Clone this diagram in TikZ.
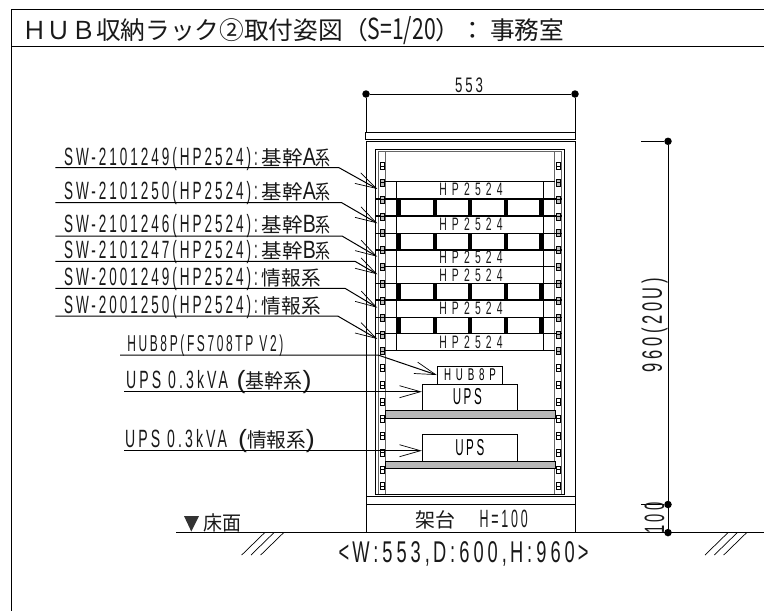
\documentclass[tikz,border=0pt]{standalone}
\usepackage{fontspec}
\usepackage{graphicx}
\usetikzlibrary{arrows.meta}
\setmainfont[LetterSpace=22]{Liberation Sans}
\newfontfamily\cjk{Noto Sans CJK JP}
% narrow latin: size, width, text
\newcommand\latx[3]{\resizebox{#2pt}{\height}{\fontsize{#1}{#1}\selectfont #3}}
\newcommand\lat[2]{\latx{25}{#1}{#2}}
\newcommand\cj[2]{\resizebox{#1pt}{\height}{\cjk\fontsize{20}{20}\selectfont #2}}
\tikzset{
  x=1pt,y=-1pt,
  line/.style={line width=1pt,black},
  thin line/.style={line width=.7pt,black},
  heavy/.style={line width=1.5pt,black},
  railline/.style={line width=.9pt,black!60},
  txt/.style={inner sep=0pt,outer sep=0pt,anchor=base west,text=black!90},
  ctxt/.style={inner sep=0pt,outer sep=0pt,anchor=center,text=black!90},
  leader/.style={line width=1pt,black,-{Straight Barb[length=21pt,width=12pt,line width=.7pt]}},
  dimdot/.style={circle,fill=black,inner sep=0pt,minimum size=7.5pt},
  hole/.style={draw=black,line width=.6pt,fill=white},
  darkhole/.style={draw=black,line width=1pt,fill=black!25},
  shelf/.style={draw=black,line width=1pt,fill=black!28},
  unitbox/.style={draw=black,line width=1pt,fill=white},
  bar/.style={fill=black,draw=none},
  hatch/.style={line width=.7pt,black},
}
\begin{document}
\begin{tikzpicture}
\useasboundingbox (0,0) rectangle (764,611);
% sheet frame
\draw[line] (764,9) -- (11.5,9) -- (11.5,611);
\draw[line] (11.5,46.7) -- (764,46.7);
% title
\node[txt] (title) at (22,39) {\cjk\fontsize{24.7}{24.7}\selectfont ＨＵＢ収納ラック②取付姿図（\latx{29}{68}{S=1/20}）：\hspace{5pt}事務室};
% cabinet
\draw[line] (365.5,132.7) rectangle (575,139);
\draw[line] (366,141) rectangle (575,504);
\draw[line] (366,496.7) -- (575,496.7);
\draw[line] (375.3,149) rectangle (564,494.3);
\draw[railline] (378,151.7) -- (561.5,151.7);
\foreach \x in {378,385,554.5,561.5} \draw[railline] (\x,151.7) -- (\x,494.3);
% plinth
\draw[line] (366,504) rectangle (575,532.6);
\node[txt] (plinth) at (415.7,527) {\cj{40}{架台}\hspace{24pt}\lat{48}{H=100}};
% server rows
\foreach \y in {199,233,283.3,317.3} {
  \foreach \x in {396.7,432.5,467.7,503.5,539}
    \fill[bar] (\x,\y) rectangle ++(4.6,17);
}
\foreach \x in {396,543.3} \draw[thin line] (\x,181.7) -- (\x,350.7);
\foreach \y in {181.7,266,350.7} \draw[thin line] (385,\y) -- (554.5,\y);
\foreach \y in {199,216,233.3,250,283.3,300,317.3,333.5} \draw[heavy] (376,\y) -- (561.7,\y);
% rail holes
\foreach \k in {0,12,13,14,15,16,17,18,19} {
  \foreach \x in {380,556} {
    \draw[hole] (\x,166+16.85*\k-3.5) rectangle ++(4.3,3.5);
    \draw[hole] (\x,166+16.85*\k) rectangle ++(4.3,3.5);
  }
}
\foreach \k in {1,...,11} {
  \foreach \x in {380,556} {
    \draw[darkhole] (\x,166+16.85*\k-3.5) rectangle ++(4.3,3.5);
    \draw[darkhole] (\x,166+16.85*\k) rectangle ++(4.3,3.5);
  }
}
% unit names
\foreach \n/\y in {a/189.7,b/224.3,c/257.5,d/275.5,e/308.5,f/342}
  \node[ctxt] (hp\n) at (471,\y) {\latx{18}{63.5}{H P 2 5 2 4}};
% equipment
\node[unitbox,minimum width=65.4pt,minimum height=18pt,inner sep=0pt] (hub) at (470,375) {\latx{17}{52}{H U B 8 P}};
\node[unitbox,minimum width=95pt,minimum height=26pt,inner sep=0pt] (ups1) at (469.8,397) {\hspace{-5pt}\latx{23}{29}{UPS}};
\node[unitbox,minimum width=95pt,minimum height=26.7pt,inner sep=0pt] (ups2) at (469.8,447.7) {\latx{23}{29}{UPS}};
\draw[shelf] (385,410) rectangle (555,418.3);
\draw[shelf] (385,461) rectangle (555,468.7);
% labels
\node[txt] (l1) at (64,165.5) {\lat{194}{SW-2101249(HP2524):}\hspace{4pt}\cj{41}{基幹}\lat{13}{A}\cj{15}{系}};
\node[txt] (l2) at (64,199.5) {\lat{194}{SW-2101250(HP2524):}\hspace{4pt}\cj{41}{基幹}\lat{13}{A}\cj{15}{系}};
\node[txt] (l3) at (64,232.5) {\lat{194}{SW-2101246(HP2524):}\hspace{4pt}\cj{41}{基幹}\lat{13}{B}\cj{15}{系}};
\node[txt] (l4) at (64,258) {\lat{194}{SW-2101247(HP2524):}\hspace{4pt}\cj{41}{基幹}\lat{13}{B}\cj{15}{系}};
\node[txt] (l5) at (64,285) {\lat{194}{SW-2001249(HP2524):}\hspace{4pt}\cj{59}{情報系}};
\node[txt] (l6) at (64,313) {\lat{194}{SW-2001250(HP2524):}\hspace{4pt}\cj{59}{情報系}};
\node[txt] (l7) at (127.3,351) {\latx{23}{156}{HUB8P(FS708TP V2)}};
\node[txt] (l8) at (126,388) {\lat{102}{UPS 0.3kVA}\hspace{8.7pt}\lat{9}{(}\cj{57}{基幹系}\lat{9}{)}};
\node[txt] (l9) at (125,447) {\lat{102}{UPS 0.3kVA}\hspace{11pt}\lat{9}{(}\cj{59}{情報系}\lat{9}{)}};
% leaders
\foreach \n/\sx/\sy/\kx/\tx/\ty in {
  1/55.3/167.7/339/377.3/189,
  2/55.3/202.7/341.7/377.3/223.3,
  3/55.3/236/342/377.3/256.7,
  4/55.3/261.3/355/377.3/274.3,
  5/55.3/288.3/345/377.3/307.7,
  6/55.3/316/337.7/377.3/339} {
  \coordinate (s\n) at (\sx,\sy);
  \coordinate (k\n) at (\kx,\sy);
  \coordinate (t\n) at (\tx,\ty);
  \draw[leader] (s\n) -- (k\n) -- (t\n);
}
\coordinate (s7) at (120,355);
\coordinate (k7) at (378,355);
\draw[leader] (s7) -- (k7) -- (hub.west);
\coordinate (s8) at (124,391.7);
\draw[leader] (s8) -- (s8 -| ups1.west);
\coordinate (s9) at (124,450.7);
\draw[leader] (s9) -- (s9 -| ups2.west);
% dimensions
\node[dimdot] (w1) at (366,94) {};
\node[dimdot] (w2) at (575,94) {};
\coordinate (w1e) at (366,132.7);
\coordinate (w2e) at (575,132.7);
\draw[line] (w1) -- (w2);
\draw[line] (w1) -- (w1e);
\draw[line] (w2) -- (w2e);
\node[ctxt] (wt) at (469,85) {\latx{21}{28}{553}};
\node[dimdot] (h1) at (668,141.3) {};
\node[dimdot] (h2) at (668,504.5) {};
\node[dimdot] (h3) at (668,532.6) {};
\coordinate (h1e) at (641,141.3);
\coordinate (h2e) at (641,504.5);
\draw[line] (h1) -- (h3);
\draw[line] (h1e) -- (h1);
\draw[line] (h2e) -- (h2);
\node[ctxt,rotate=90] (ht) at (654.5,325) {\latx{28}{94}{960(20U)}};
\node[ctxt,rotate=90] (ht2) at (654.5,518) {\latx{28}{31}{100}};
% floor
\draw[line] (176,532.6) -- (764,532.6);
\fill[black!80] (184,516) -- (199,516) -- (191.3,531.5) -- cycle;
\node[txt] (floor) at (203,530.5) {\cj{38}{床面}};
\foreach \x in {241.7,251,260.7} \draw[hatch] (\x,555) -- ++(23,-22.4);
\foreach \x in {705,714.3,723.7} \draw[hatch] (\x,555) -- ++(23,-22.4);
\node[ctxt] (size) at (463.6,553.5) {\resizebox{250pt}{\height}{\fontsize{30}{30}\selectfont <\,W:553,\,D:600,\,H:960\,>}};
\end{tikzpicture}
\end{document}
